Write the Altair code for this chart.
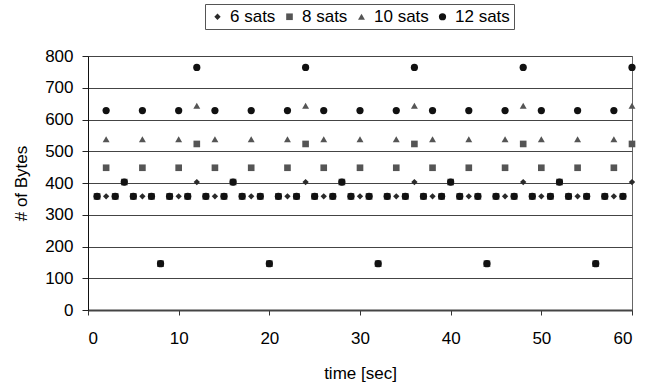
import altair as alt
import pandas as pd

time_sec = [1, 2, 3, 4, 5, 6, 7, 8, 9, 10, 11, 12,
            13, 14, 15, 16, 17, 18, 19, 20, 21, 22, 23, 24,
            25, 26, 27, 28, 29, 30, 31, 32, 33, 34, 35, 36,
            37, 38, 39, 40, 41, 42, 43, 44, 45, 46, 47, 48,
            49, 50, 51, 52, 53, 54, 55, 56, 57, 58, 59, 60]

sats6 = [358, 358, 358, 403, 358, 358, 358, 146, 358, 358, 358, 403,
         358, 358, 358, 403, 358, 358, 358, 146, 358, 358, 358, 403,
         358, 358, 358, 403, 358, 358, 358, 146, 358, 358, 358, 403,
         358, 358, 358, 403, 358, 358, 358, 146, 358, 358, 358, 403,
         358, 358, 358, 403, 358, 358, 358, 146, 358, 358, 358, 403]

sats8 = [358, 448, 358, 403, 358, 448, 358, 146, 358, 448, 358, 523,
         358, 448, 358, 403, 358, 448, 358, 146, 358, 448, 358, 523,
         358, 448, 358, 403, 358, 448, 358, 146, 358, 448, 358, 523,
         358, 448, 358, 403, 358, 448, 358, 146, 358, 448, 358, 523,
         358, 448, 358, 403, 358, 448, 358, 146, 358, 448, 358, 523]

sats10 = [358, 538, 358, 403, 358, 538, 358, 146, 358, 538, 358, 643,
          358, 538, 358, 403, 358, 538, 358, 146, 358, 538, 358, 643,
          358, 538, 358, 403, 358, 538, 358, 146, 358, 538, 358, 643,
          358, 538, 358, 403, 358, 538, 358, 146, 358, 538, 358, 643,
          358, 538, 358, 403, 358, 538, 358, 146, 358, 538, 358, 643]

sats12 = [358, 628, 358, 403, 358, 628, 358, 146, 358, 628, 358, 764,
          358, 628, 358, 403, 358, 628, 358, 146, 358, 628, 358, 764,
          358, 628, 358, 403, 358, 628, 358, 146, 358, 628, 358, 764,
          358, 628, 358, 403, 358, 628, 358, 146, 358, 628, 358, 764,
          358, 628, 358, 403, 358, 628, 358, 146, 358, 628, 358, 764]

series_names = ["6 sats", "8 sats", "10 sats", "12 sats"]
series_values = [sats6, sats8, sats10, sats12]
x_ticks = [0, 10, 20, 30, 40, 50, 60]
y_ticks = [0, 100, 200, 300, 400, 500, 600, 700, 800]

rows = []
for order, (name, vals) in enumerate(zip(series_names, series_values)):
    for t, v in zip(time_sec, vals):
        rows.append({"time": t, "bytes": v, "series": name, "order": order})
df = pd.DataFrame(rows)

FONT = "Liberation Sans"
legend_kw = dict(orient="none", legendX=117, legendY=-52, direction="horizontal",
                 columns=4, title=None)

chart = alt.Chart(df).mark_point(filled=True, opacity=1).encode(
    x=alt.X("time:Q",
            scale=alt.Scale(domain=[0, 60], nice=False),
            axis=alt.Axis(title="time [sec]", values=x_ticks, grid=False,
                          tickSize=5, tickColor="#333", domainColor="#444",
                          domainWidth=2, labelPadding=15, titlePadding=19)),
    y=alt.Y("bytes:Q",
            scale=alt.Scale(domain=[0, 800], nice=False),
            axis=alt.Axis(title="# of Bytes", values=y_ticks, grid=True,
                          gridColor="#444", tickSize=6, tickColor="#222",
                          domainColor="#111", labelPadding=9, titlePadding=14)),
    color=alt.Color("series:N",
                    scale=alt.Scale(domain=series_names,
                                    range=["#2a2a2a", "#555555", "#555555", "#111111"]),
                    legend=alt.Legend(strokeColor="#555", padding=4, symbolSize=42,
                                      labelFontSize=17, labelFont=FONT,
                                      labelOffset=4, columnPadding=5, **legend_kw)),
    shape=alt.Shape("series:N",
                    scale=alt.Scale(domain=series_names,
                                    range=["diamond", "square", "triangle-up", "circle"]),
                    legend=alt.Legend(**legend_kw)),
    size=alt.Size("series:N",
                  scale=alt.Scale(domain=series_names, range=[40, 52, 100, 64]),
                  legend=None),
    order=alt.Order("order:Q"),
).properties(
    width=544, height=254,
    autosize=alt.AutoSizeParams(type="none"),
    padding={"left": 88, "top": 56, "right": 23, "bottom": 79},
).configure_view(
    stroke="#666", strokeWidth=1
).configure_axis(
    labelFont=FONT, titleFont=FONT, labelFontSize=17, titleFontSize=17,
    titleFontWeight="normal", labelColor="#000", titleColor="#000"
).configure_legend(
    labelColor="#000"
)

chart.save("out.html", embed_options={"renderer": "svg", "actions": False})
